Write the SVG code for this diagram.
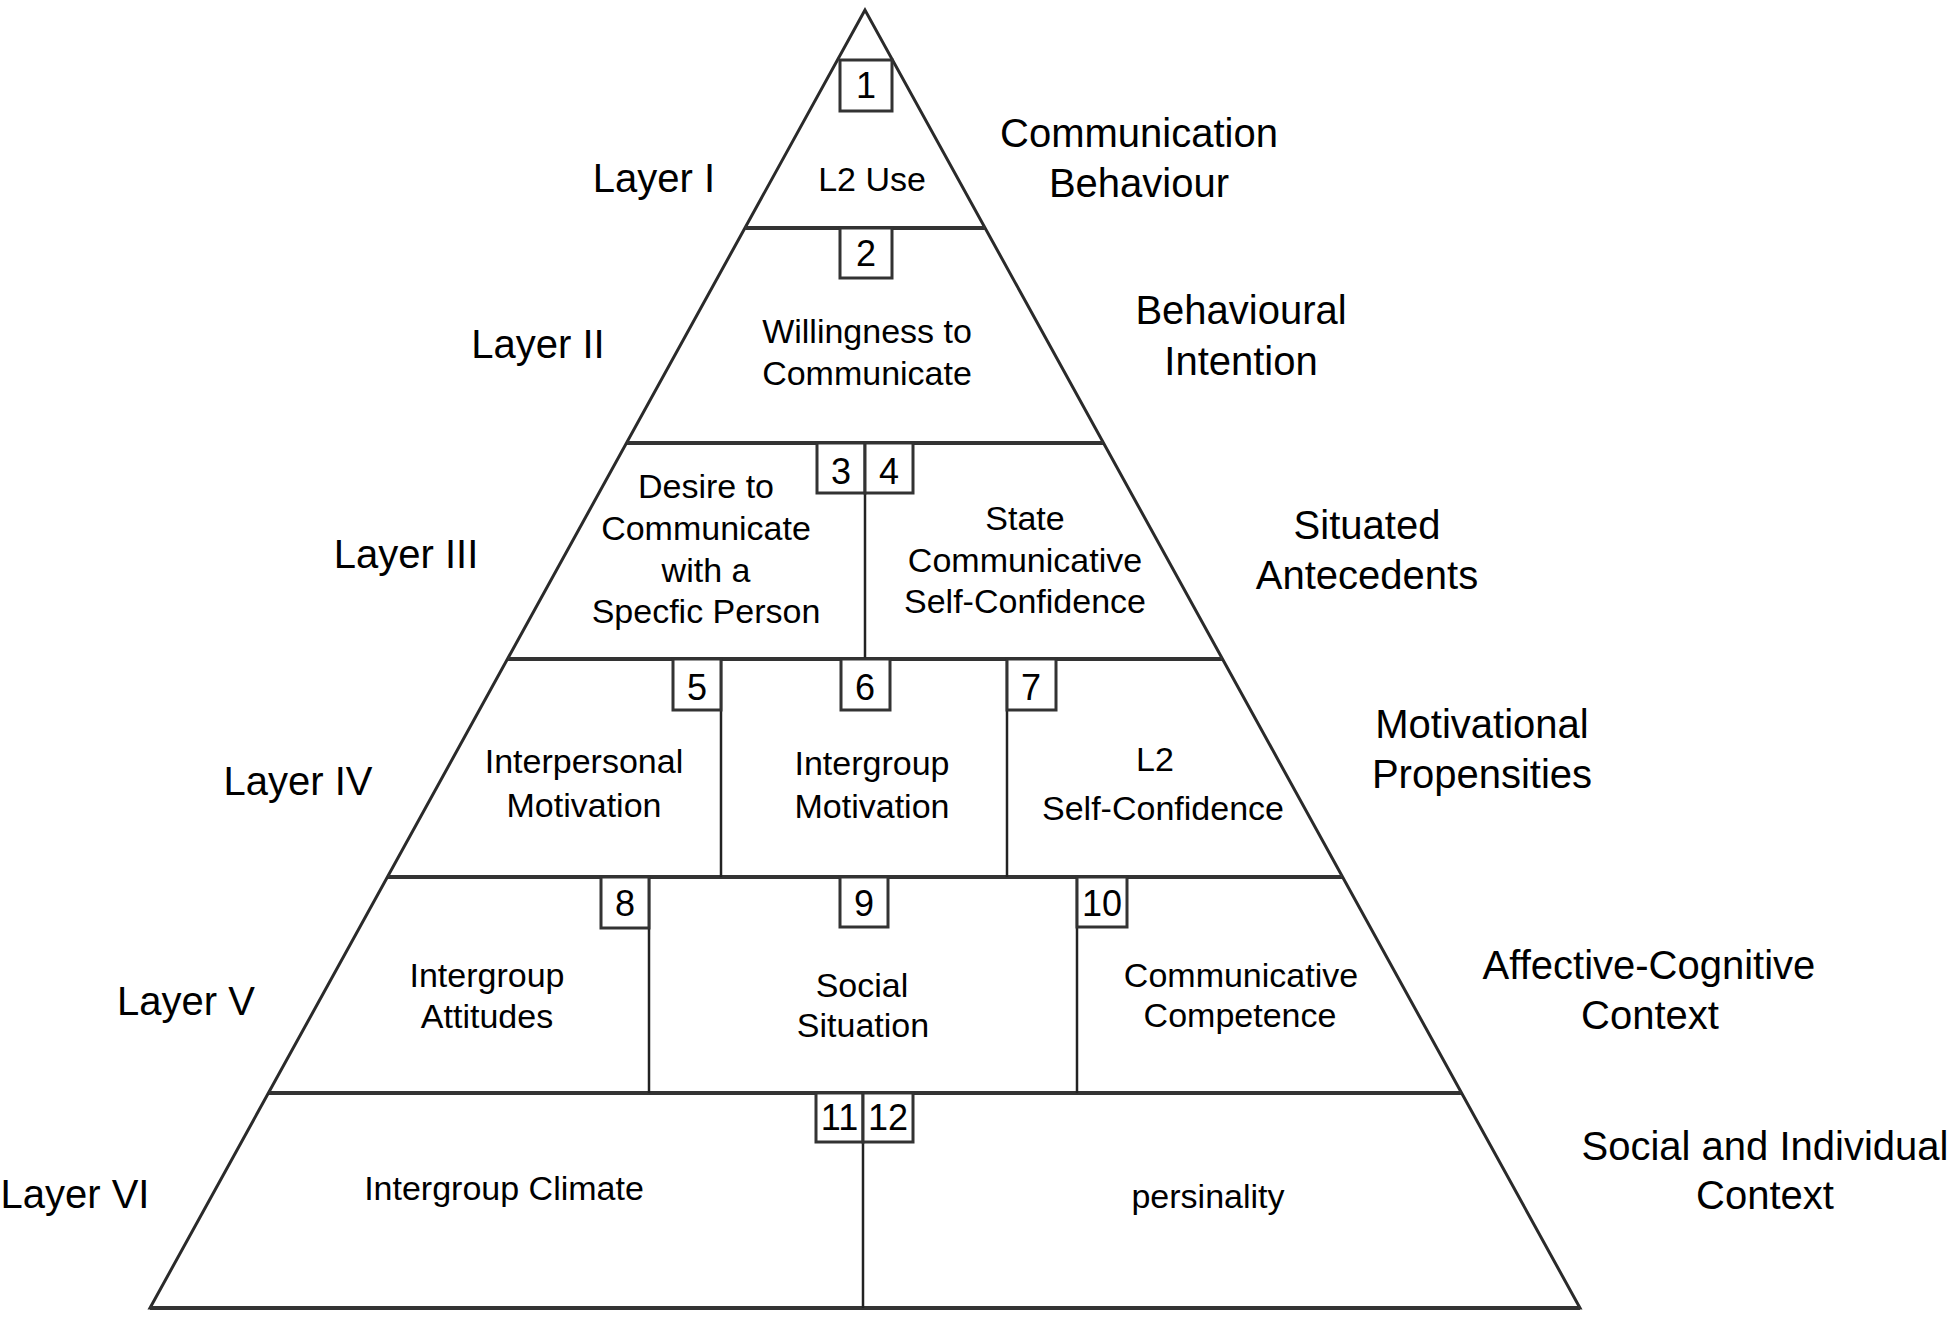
<svg xmlns="http://www.w3.org/2000/svg" width="1955" height="1319" viewBox="0 0 1955 1319">
<style>
  .edge { fill: none; stroke: #2a2a2a; stroke-width: 3; stroke-linejoin: miter; }
  .band { stroke: #333; stroke-width: 4; }
  .div { stroke: #222; stroke-width: 2.5; }
  .box { fill: #fff; stroke: #333; stroke-width: 3; }
  .shadow { fill: none; stroke: #aaa; stroke-width: 2; }
  .num { font-family: "Liberation Sans", Arial, sans-serif; font-size: 36px; fill: #000; text-anchor: middle; }
  .inner { font-family: "Liberation Sans", Arial, sans-serif; font-size: 34px; fill: #000; text-anchor: middle; }
  .outer { font-family: "Liberation Sans", Arial, sans-serif; font-size: 40px; fill: #000; text-anchor: middle; }
</style>
<rect width="1955" height="1319" fill="#fff"/>

<g id="pyramid-lines">
  <polygon class="edge" points="865,10 150,1308 1580,1308"/>
  <line class="band" x1="745" y1="228" x2="985" y2="228"/>
  <line class="band" x1="627" y1="443" x2="1103" y2="443"/>
  <line class="band" x1="508" y1="659" x2="1222" y2="659"/>
  <line class="band" x1="388" y1="877" x2="1342" y2="877"/>
  <line class="band" x1="269" y1="1093" x2="1461" y2="1093"/>
  <line class="band" x1="150" y1="1308" x2="1580" y2="1308"/>
  <line class="div" x1="865" y1="443" x2="865" y2="659"/>
  <line class="div" x1="721" y1="659" x2="721" y2="877"/>
  <line class="div" x1="1007" y1="659" x2="1007" y2="877"/>
  <line class="div" x1="649" y1="877" x2="649" y2="1093"/>
  <line class="div" x1="1077" y1="877" x2="1077" y2="1093"/>
  <line class="div" x1="863" y1="1093" x2="863" y2="1308"/>
</g>

<g id="node-1">
  <rect class="box" x="840" y="60" width="52" height="51"/>
  <text class="num" x="866" y="98">1</text>
  <text class="inner" x="872" y="191">L2 Use</text>
</g>
<g id="node-2">
  <rect class="box" x="840" y="228" width="52" height="50"/>
  <text class="num" x="866" y="266">2</text>
  <text class="inner" x="867" y="343">Willingness to</text>
  <text class="inner" x="867" y="385">Communicate</text>
</g>
<g id="node-3">
  <rect class="box" x="817" y="443" width="48" height="50"/>
  <text class="num" x="841" y="484">3</text>
  <text class="inner" x="706" y="498">Desire to</text>
  <text class="inner" x="706" y="540">Communicate</text>
  <text class="inner" x="706" y="582">with a</text>
  <text class="inner" x="706" y="623">Specfic Person</text>
</g>
<g id="node-4">
  <rect class="box" x="865" y="443" width="48" height="50"/>
  <text class="num" x="889" y="484">4</text>
  <text class="inner" x="1025" y="530">State</text>
  <text class="inner" x="1025" y="572">Communicative</text>
  <text class="inner" x="1025" y="613">Self-Confidence</text>
</g>
<g id="node-5">
  <rect class="box" x="673" y="659" width="48" height="51"/>
  <text class="num" x="697" y="700">5</text>
  <text class="inner" x="584" y="773">Interpersonal</text>
  <text class="inner" x="584" y="817">Motivation</text>
</g>
<g id="node-6">
  <rect class="box" x="841" y="659" width="49" height="51"/>
  <text class="num" x="865" y="700">6</text>
  <text class="inner" x="872" y="775">Intergroup</text>
  <text class="inner" x="872" y="818">Motivation</text>
</g>
<g id="node-7">
  <rect class="box" x="1007" y="659" width="49" height="51"/>
  <text class="num" x="1031" y="700">7</text>
  <text class="inner" x="1155" y="771">L2</text>
  <text class="inner" x="1163" y="820">Self-Confidence</text>
</g>
<g id="node-8">
  <rect class="box" x="601" y="877" width="48" height="51"/>
  <text class="num" x="625" y="916">8</text>
  <text class="inner" x="487" y="987">Intergroup</text>
  <text class="inner" x="487" y="1028">Attitudes</text>
</g>
<g id="node-9">
  <rect class="box" x="840" y="877" width="48" height="50"/>
  <text class="num" x="864" y="916">9</text>
  <text class="inner" x="862" y="997">Social</text>
  <text class="inner" x="863" y="1037">Situation</text>
</g>
<g id="node-10">
  <rect class="box" x="1077" y="877" width="50" height="50"/>
  <text class="num" x="1102" y="916">10</text>
  <text class="inner" x="1241" y="987">Communicative</text>
  <text class="inner" x="1240" y="1027">Competence</text>
</g>
<g id="node-11">
  <rect class="box" x="816" y="1093" width="47" height="49"/>
  <text class="num" x="839.5" y="1130">11</text>
  <text class="inner" x="504" y="1200">Intergroup Climate</text>
</g>
<g id="node-12">
  <rect class="box" x="863" y="1093" width="50" height="49"/>
  <text class="num" x="888" y="1130">12</text>
  <text class="inner" x="1208" y="1208">persinality</text>
</g>

<g id="layer-labels">
  <text class="outer" x="654" y="192">Layer I</text>
  <text class="outer" x="538" y="358">Layer II</text>
  <text class="outer" x="406" y="568">Layer III</text>
  <text class="outer" x="298" y="795">Layer IV</text>
  <text class="outer" x="186" y="1015">Layer V</text>
  <text class="outer" x="75" y="1208">Layer VI</text>
</g>

<g id="level-labels">
  <text class="outer" x="1139" y="147">Communication</text>
  <text class="outer" x="1139" y="197">Behaviour</text>
  <text class="outer" x="1241" y="324">Behavioural</text>
  <text class="outer" x="1241" y="375">Intention</text>
  <text class="outer" x="1367" y="539">Situated</text>
  <text class="outer" x="1367" y="589">Antecedents</text>
  <text class="outer" x="1482" y="738">Motivational</text>
  <text class="outer" x="1482" y="788">Propensities</text>
  <text class="outer" x="1649" y="979">Affective-Cognitive</text>
  <text class="outer" x="1650" y="1029">Context</text>
  <text class="outer" x="1765" y="1160">Social and Individual</text>
  <text class="outer" x="1765" y="1209">Context</text>
</g>
</svg>
